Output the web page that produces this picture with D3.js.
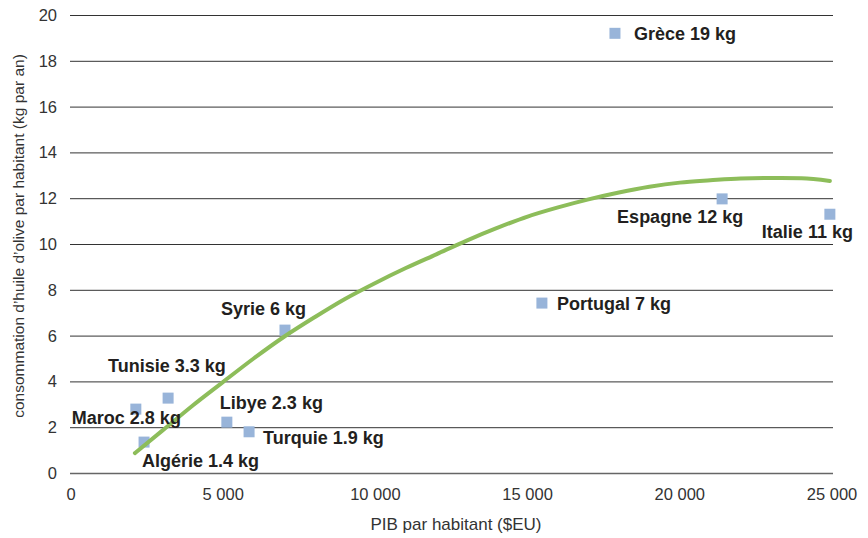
<!DOCTYPE html>
<html><head><meta charset="utf-8">
<script src="https://cdn.jsdelivr.net/npm/d3@7"></script>
<style>
body{margin:0;background:#fff;}
text{font-family:"Liberation Sans",Arial,sans-serif;}
</style></head>
<body><svg id="c" width="868" height="538"></svg>
<script>
const countries = ["Grèce","Espagne","Italie","Portugal","Syrie","Tunisie","Maroc","Libye","Turquie","Algérie"];
const gdp =       [17870, 21390, 24930, 15470, 7030, 3190, 2130, 5120, 5850, 2400];
const oil =       [19.2, 11.97, 11.3, 7.42, 6.24, 3.27, 2.79, 2.22, 1.8, 1.35];
const labels = ["Grèce 19 kg","Espagne 12 kg","Italie 11 kg","Portugal 7 kg","Syrie 6 kg","Tunisie 3.3 kg","Maroc 2.8 kg","Libye 2.3 kg","Turquie 1.9 kg","Algérie 1.4 kg"];
const labelDx = [19,-105,-68,15,-64,-60,-64,-7,14,-2];
const labelDy = [7,24,24,7,-15,-26,15,-13,12,25];
const trendX = [2100,3000,4000,5000,6000,7000,8000,9000,10000,11000,12000,13000,14000,15000,16000,17000,18000,19000,20000,21000,22000,23000,24000,24930];
const trendY = [0.87,1.85,2.95,3.98,5.0,5.95,6.8,7.6,8.3,8.95,9.55,10.15,10.7,11.2,11.6,11.95,12.25,12.5,12.68,12.78,12.86,12.88,12.87,12.75];
const xTicks = [0,5000,10000,15000,20000,25000];
const yTicks = [0,2,4,6,8,10,12,14,16,18,20];

const svg = d3.select("#c");
const x = d3.scaleLinear().domain([0,25000]).range([71,832]);
const y = d3.scaleLinear().domain([0,20]).range([473,15]);
const fmt = v => d3.format(",")(v).replace(/,/g,"\u00a0");

// gridlines
svg.append("g").selectAll("line").data(yTicks).join("line")
  .attr("x1",70).attr("x2",833)
  .attr("y1",d=>y(d)+0.5).attr("y2",d=>y(d)+0.5)
  .attr("stroke",d=>d===0?"#666":"#333").attr("stroke-width",d=>d===0?1.6:1);

// y tick labels
svg.append("g").selectAll("text").data(yTicks).join("text")
  .attr("x",57).attr("y",d=>y(d)+6)
  .attr("text-anchor","end").attr("font-size",16.5).attr("fill","#333")
  .text(d=>d);
// x tick labels
svg.append("g").selectAll("text").data(xTicks).join("text")
  .attr("x",d=>x(d)).attr("y",500)
  .attr("text-anchor","middle").attr("font-size",16.5).attr("fill","#333")
  .text(d=>fmt(d));

// axis titles
svg.append("text").attr("x",456).attr("y",530).attr("text-anchor","middle")
  .attr("font-size",17).attr("fill","#333").text("PIB par habitant ($EU)");
svg.append("text").attr("transform","translate(24,236) rotate(-90)").attr("text-anchor","middle")
  .attr("font-size",15.5).attr("fill","#333").text("consommation d\u2019huile d\u2019olive par habitant (kg par an)");

// points
const pts = countries.map((c,i)=>({c,gx:gdp[i],o:oil[i],l:labels[i],dx:labelDx[i],dy:labelDy[i]}));
svg.append("g").selectAll("rect").data(pts).join("rect")
  .attr("x",d=>x(d.gx)-5.5).attr("y",d=>y(d.o)-5.5).attr("width",11).attr("height",11)
  .attr("fill","#98b4d9");

// trend line
const tr = trendX.map((v,i)=>[v,trendY[i]]);
svg.append("path").datum(tr)
  .attr("d",d3.line().x(d=>x(d[0])).y(d=>y(d[1])).curve(d3.curveMonotoneX))
  .attr("fill","none").attr("stroke","#8dbd5a").attr("stroke-width",4).attr("stroke-linecap","round");

// labels
svg.append("g").selectAll("text").data(pts).join("text")
  .attr("x",d=>x(d.gx)+d.dx).attr("y",d=>y(d.o)+d.dy)
  .attr("font-size",18).attr("font-weight","bold").attr("fill","#231f20")
  .text(d=>d.l);
</script></body></html>
